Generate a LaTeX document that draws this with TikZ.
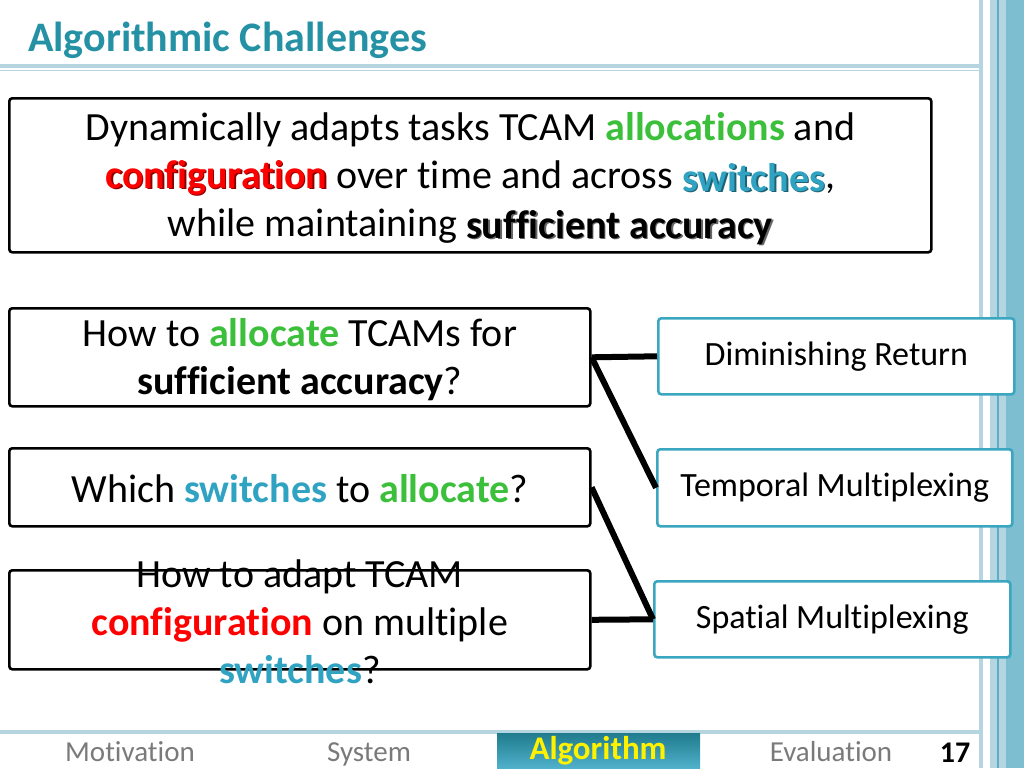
\documentclass[tikz,border=0pt]{standalone}
\usepackage{fontspec}
\setmainfont{Carlito}[Ligatures=NoCommon]
\usetikzlibrary{calc}
\definecolor{titleteal}{HTML}{2591A5}
\definecolor{agreen}{HTML}{3CC03C}
\definecolor{ared}{HTML}{FF0000}
\definecolor{ateal}{HTML}{31A3C2}
\definecolor{boxteal}{HTML}{3AA6C0}
\definecolor{stripe}{HTML}{B5D6E1}
\definecolor{stripedark}{HTML}{5AAFC7}
\definecolor{footgray}{HTML}{7A7A7A}
\newcommand\shadtxt[3]{\makebox[0pt][l]{\hspace{1.6pt}\raisebox{-1.6pt}{\color{#2}#3}}{\color{#1}#3}}
\tikzset{
  qbox/.style={draw=black, line width=2.6pt, rounded corners=3pt, fill=white, anchor=north west, inner sep=0pt},
  abox/.style={draw=boxteal, line width=2.6pt, rounded corners=3pt, fill=white, anchor=north west, inner sep=0pt, font=\fontsize{34}{40}\selectfont},
  link/.style={line width=6pt, black},
  qtext/.style={align=center, font=\fontsize{40}{48}\selectfont, inner sep=0pt},
  foot/.style={font=\fontsize{29}{32}\selectfont, text=footgray, anchor=base, inner sep=0pt}
}
\begin{document}
\begin{tikzpicture}[x=1pt,y=-1pt]
\useasboundingbox (0,0) rectangle (1024,768);
% right-side stripes
\fill[stripe] (979,0) rectangle (983,768);
\fill[stripe] (990,0) rectangle (1024,768);
\fill[stripedark!60!stripe] (1006,0) rectangle (1024,768);
\draw[stripedark, line width=1.2pt] (998,0) -- (998,768);
% title underline
\fill[stripe] (0,64) rectangle (979,67.5);
\fill[stripe] (0,69.5) rectangle (979,71);
% footer line
\fill[stripe] (0,730) rectangle (979,734);
% title
\node[anchor=west, inner sep=0pt, text=titleteal, font=\fontsize{42}{44}\selectfont\bfseries] (title) at (28,40) {Algorithmic Challenges};

% top box
\node[qbox, minimum width=922pt, minimum height=154pt] (top) at (8,97) {};
\node[qtext] (toptext) at ($(top.center)+(0,4)$) {Dynamically adapts tasks TCAM \textbf{\color{agreen}allocations} and\\
\textbf{\shadtxt{ared}{red!55!black}{configuration}} over time and across \raisebox{-3pt}{\textbf{\shadtxt{ateal}{ateal!60!black}{switches}}},\\
while maintaining \raisebox{-2pt}{\textbf{\shadtxt{black}{black!60}{sufficient accuracy}}}};

% question boxes
\node[qbox, minimum width=581pt, minimum height=98pt] (q1) at (8,307) {};
\node[qtext] (q1text) at ($(q1.center)+(0,2)$) {How to \textbf{\color{agreen}allocate} TCAMs for\\ \textbf{sufficient accuracy}?};
\node[qbox, minimum width=581pt, minimum height=78pt] (q2) at (8,447) {};
\node[qtext] (q2text) at ($(q2.center)+(0,1)$) {Which \textbf{\color{ateal}switches} to \textbf{\color{agreen}allocate}?};
\node[qbox, minimum width=581pt, minimum height=99pt] (q3) at (8,569) {};
\node[qtext] (q3text) at ($(q3.center)+(0,2)$) {How to adapt TCAM\\ \textbf{\color{ared}configuration} on multiple\\ \textbf{\color{ateal}switches}?};

% answer boxes
\node[abox, minimum width=356pt, minimum height=76pt] (dr) at (657,317) {Diminishing Return};
\node[abox, minimum width=355pt, minimum height=77pt] (tm) at (656,448) {Temporal Multiplexing};
\node[abox, minimum width=356pt, minimum height=76pt] (sm) at (653,580) {Spatial Multiplexing};

% connectors
\draw[link] (q1.east) -- (dr.west);
\draw[link] (q1.east) -- (tm.west);
\draw[link] (q2.east) -- (sm.west);
\draw[link] (q3.east) -- (sm.west);

% footer
\shade[top color=titleteal!85!black, bottom color=ateal!85!white] (497,733) rectangle (700,768);
\node[foot] (f1) at (130,761) {Motivation};
\node[foot] (f2) at (369,761) {System};
\node[font=\fontsize{33}{36}\selectfont\bfseries, text=yellow, anchor=base, inner sep=0pt] (f3) at (598,759) {Algorithm};
\node[foot] (f4) at (831,761) {Evaluation};
\node[font=\fontsize{30}{32}\selectfont\bfseries, text=black, anchor=base, inner sep=0pt] (f5) at (955,762) {17};
\end{tikzpicture}
\end{document}
